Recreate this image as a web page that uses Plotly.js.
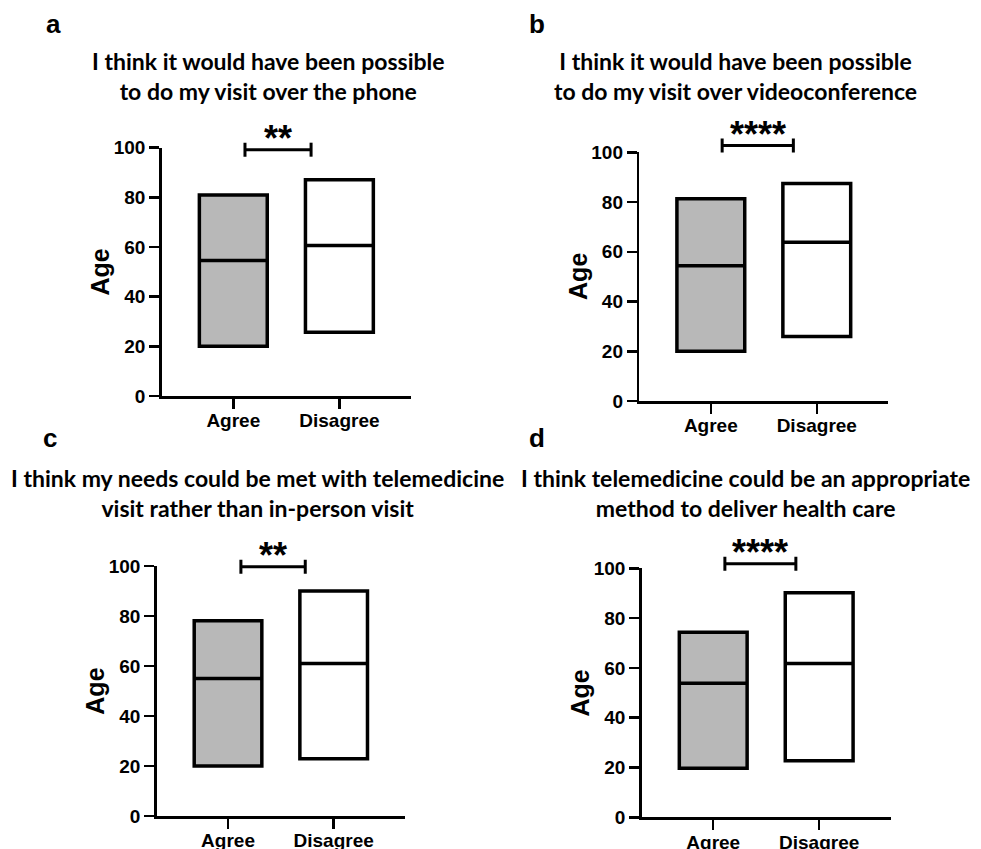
<!DOCTYPE html>
<html>
<head>
<meta charset="utf-8">
<script src="https://cdn.plot.ly/plotly-3.0.1.min.js"></script>
<style>html,body{margin:0;padding:0;background:#fff;}#chart{width:981px;height:849px;}</style>
</head>
<body>
<div id="chart"></div>
<script>
// ---- data ----
const categories = ['Agree', 'Disagree'];
const panelLetters = ['a', 'b', 'c', 'd'];
const panelTitles = [
  'I think it would have been possible<br>to do my visit over the phone',
  'I think it would have been possible<br>to do my visit over videoconference',
  'I think my needs could be met with telemedicine<br>visit rather than in-person visit',
  'I think telemedicine could be an appropriate<br>method to deliver health care'
];
const agreeMin = [20, 20, 20, 19.7];
const agreeMedian = [54.6, 54.4, 55, 53.8];
const agreeMax = [81, 81.3, 78.1, 74.3];
const disagreeMin = [25.7, 25.9, 22.9, 22.7];
const disagreeMedian = [60.6, 63.8, 61, 61.8];
const disagreeMax = [87.1, 87.5, 90, 90.2];
const sigLabels = ['**', '****', '**', '****'];
const bracketLevel = [99.2, 102.7, 99.7, 101.8];
const bracketStart = [0.11, 0.107, 0.122, 0.11];
const bracketEnd = [0.733, 0.779, 0.731, 0.78];
const yTitle = 'Age';

// ---- layout geometry (pixels in a 981x849 canvas) ----
const W = 981, H = 849;
const plotBoxes = [
  {l: 161.7, r: 411.0, t: 147.7, b: 396.0},
  {l: 639.3, r: 888.3, t: 152.3, b: 401.0},
  {l: 156.7, r: 405.0, t: 566.0, b: 816.0},
  {l: 641.7, r: 890.7, t: 568.3, b: 817.3}
];
const titleCenters = [[268.5, 75.8], [735, 75.8], [257, 492.5], [745, 492.5]];
const letterCenters = [[53, 24], [537, 24], [50, 438], [537, 438]];

const axisFont = {family: 'Liberation Sans, Arial, sans-serif', size: 19, color: '#000', weight: 'bold'};
const titleFont = {family: 'Lato, sans-serif', size: 23, color: '#000', weight: 'bold'};
const yMax = 100;

const traces = [];
const layout = {
  width: W, height: H,
  margin: {l: 0, r: 0, t: 0, b: 0},
  paper_bgcolor: '#fff', plot_bgcolor: 'rgba(0,0,0,0)',
  showlegend: false,
  boxmode: 'overlay',
  shapes: [], annotations: []
};

for (let i = 0; i < 4; i++) {
  const sfx = i === 0 ? '' : String(i + 1);
  const xa = 'x' + sfx, ya = 'y' + sfx;
  const pb = plotBoxes[i];
  const common = {
    showline: true, linewidth: 2.5, linecolor: '#000',
    ticks: 'outside', ticklen: 10, tickwidth: 2.5, tickcolor: '#000',
    showgrid: false, zeroline: false, tickfont: axisFont, fixedrange: true
  };
  layout['xaxis' + sfx] = Object.assign({}, common, {
    domain: [pb.l / W, pb.r / W], anchor: ya,
    range: [-0.675, 1.675], tickvals: [0, 1], ticktext: categories,
    ticklabelstandoff: -4
  });
  layout['yaxis' + sfx] = Object.assign({}, common, {
    domain: [1 - pb.b / H, 1 - pb.t / H], anchor: xa,
    range: [0, yMax], tick0: 0, dtick: 20
  });

  const boxStyle = {
    type: 'box', xaxis: xa, yaxis: ya, width: 0.64, whiskerwidth: 0,
    line: {color: '#000', width: 3.5}, boxpoints: false, hoverinfo: 'skip'
  };
  traces.push(Object.assign({}, boxStyle, {
    x: [0], q1: [agreeMin[i]], median: [agreeMedian[i]], q3: [agreeMax[i]],
    lowerfence: [agreeMin[i]], upperfence: [agreeMax[i]], fillcolor: '#b8b8b8'
  }));
  traces.push(Object.assign({}, boxStyle, {
    x: [1], q1: [disagreeMin[i]], median: [disagreeMedian[i]], q3: [disagreeMax[i]],
    lowerfence: [disagreeMin[i]], upperfence: [disagreeMax[i]], fillcolor: '#ffffff'
  }));

  // significance bracket
  const yd = bracketLevel[i] / yMax;
  const lineStyle = {color: '#000', width: 3};
  layout.shapes.push({type: 'line', xref: xa, yref: ya + ' domain',
    x0: bracketStart[i], x1: bracketEnd[i], y0: yd, y1: yd, line: lineStyle});
  [bracketStart[i], bracketEnd[i]].forEach(xv => {
    layout.shapes.push({type: 'line', xref: xa, yref: ya + ' domain',
      ysizemode: 'pixel', yanchor: yd, x0: xv, x1: xv, y0: -7, y1: 7, line: lineStyle});
  });
  layout.annotations.push({
    xref: xa, yref: ya + ' domain', x: (bracketStart[i] + bracketEnd[i]) / 2, y: yd,
    text: sigLabels[i], showarrow: false, yanchor: 'bottom', yshift: -11,
    font: {family: 'Liberation Sans, Arial, sans-serif', size: 36, color: '#000', weight: 'bold'}
  });

  // y-axis title
  layout.annotations.push({
    xref: xa + ' domain', yref: ya + ' domain', x: 0, y: 0.5, xshift: -62,
    text: yTitle, textangle: -90, showarrow: false, xanchor: 'center', yanchor: 'middle',
    font: {family: 'Liberation Sans, Arial, sans-serif', size: 25, color: '#000', weight: 'bold'}
  });

  // panel title
  layout.annotations.push({
    xref: 'paper', yref: 'paper', x: titleCenters[i][0] / W, y: 1 - titleCenters[i][1] / H,
    text: panelTitles[i], showarrow: false, xanchor: 'center', yanchor: 'middle', font: titleFont
  });
  // panel letter
  layout.annotations.push({
    xref: 'paper', yref: 'paper', x: letterCenters[i][0] / W, y: 1 - letterCenters[i][1] / H,
    text: panelLetters[i], showarrow: false, xanchor: 'center', yanchor: 'middle',
    font: {family: 'Liberation Sans, Arial, sans-serif', size: 26, color: '#000', weight: 'bold'}
  });
}

Plotly.newPlot('chart', traces, layout, {staticPlot: true, displayModeBar: false});
</script>
</body>
</html>
